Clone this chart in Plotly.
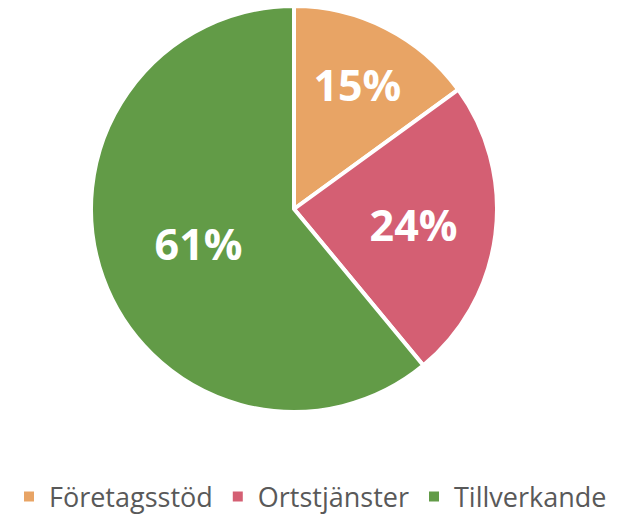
import plotly.graph_objects as go

labels = ["Företagsstöd", "Ortstjänster", "Tillverkande"]
values = [15, 24, 61]
colors = ["#E8A465", "#D45F73", "#629B47"]

W, H = 621, 516
cx, cy, r = 294, 209, 203

fig = go.Figure(go.Pie(
    labels=labels, values=values, sort=False, direction="clockwise", rotation=0,
    marker=dict(colors=colors, line=dict(color="white", width=4)),
    texttemplate="%{percent:.0%}", textposition="inside",
    insidetextorientation="horizontal",
    textfont=dict(family="Open Sans", size=43, color="white", weight="bold"),
    domain=dict(x=[(cx - r) / W, (cx + r) / W], y=[1 - (cy + r) / H, 1 - (cy - r) / H]),
    hoverinfo="label+percent",
))
fig.update_layout(
    width=W, height=H, margin=dict(l=0, r=0, t=0, b=0, autoexpand=False),
    paper_bgcolor="white", plot_bgcolor="white",
    showlegend=True,
    legend=dict(orientation="h", x=0.5, xanchor="center", y=(H - 497) / H, yanchor="middle",
                font=dict(family="Open Sans", size=27, color="#595959"),
                itemsizing="constant", traceorder="normal"),
)
fig.write_html("out.html", config={"displayModeBar": False},
               post_script="document.body.style.margin='0';document.body.style.overflow='hidden';")
